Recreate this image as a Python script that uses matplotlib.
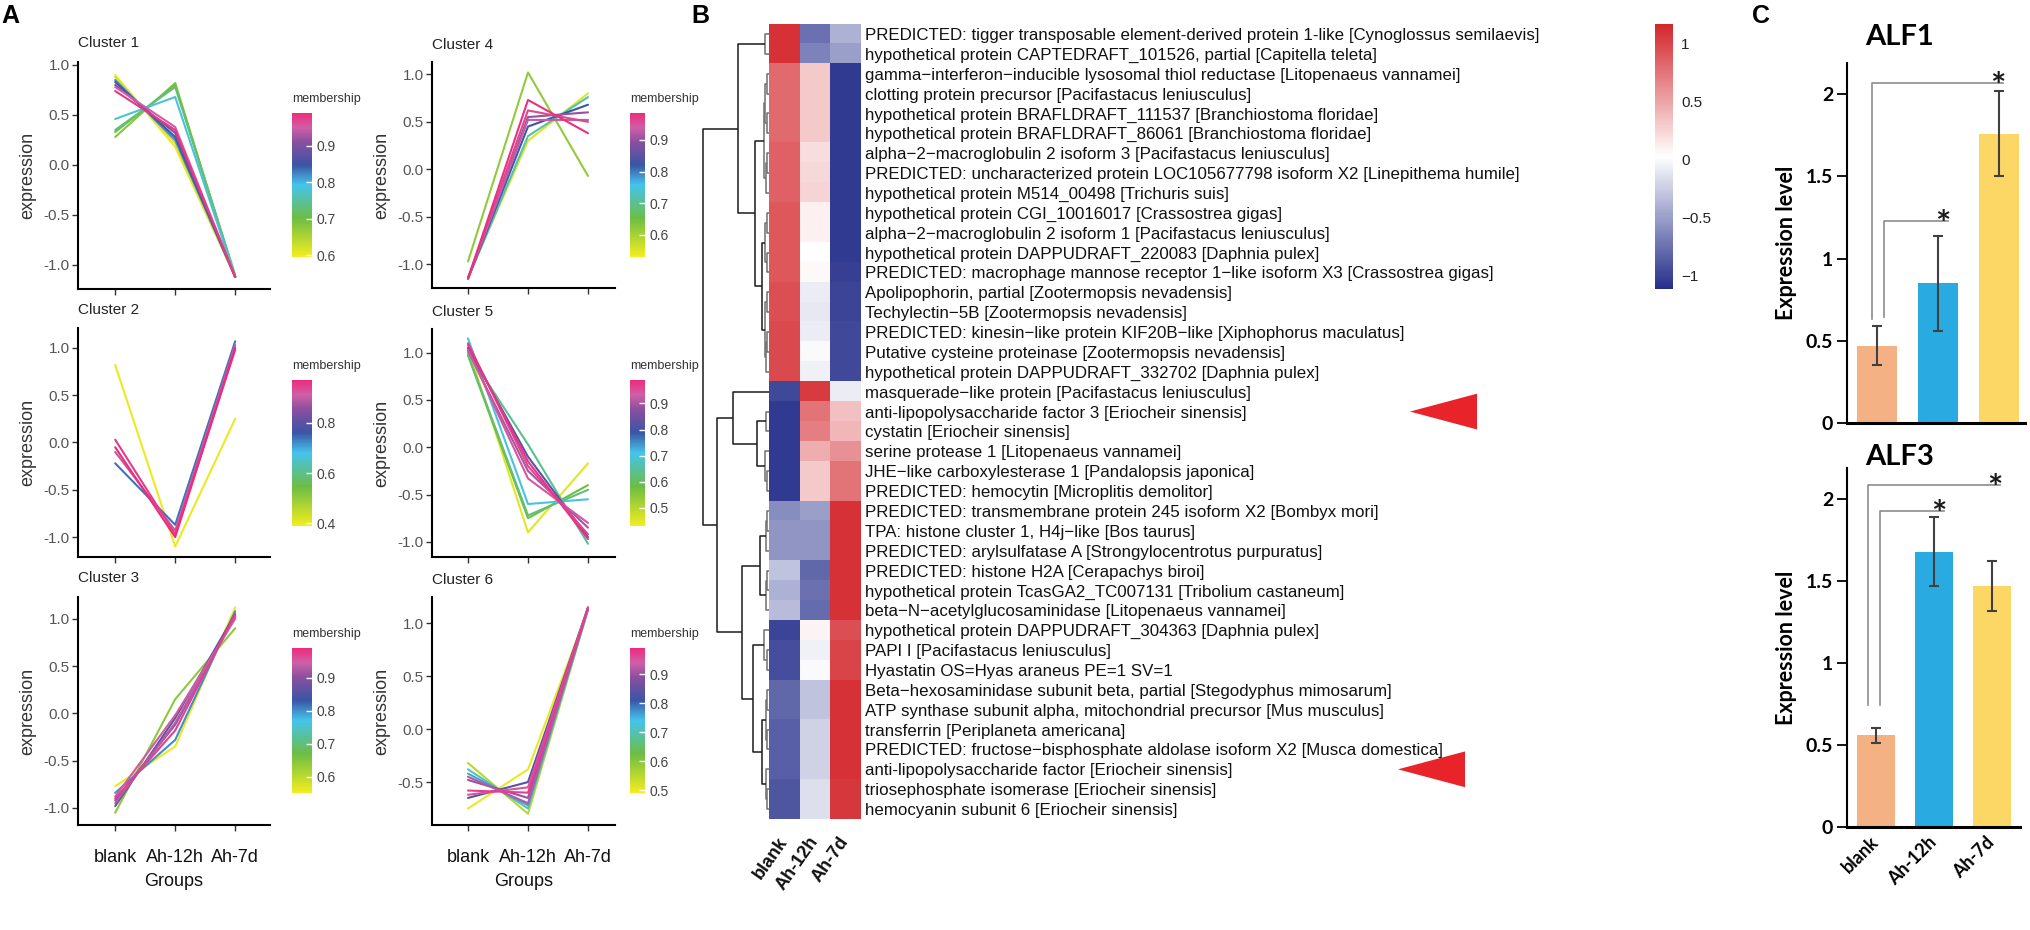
import numpy as np
import matplotlib
matplotlib.use('Agg')
import matplotlib.pyplot as plt
import matplotlib.transforms as mtransforms
from matplotlib.colors import LinearSegmentedColormap, Normalize
from matplotlib.colorbar import ColorbarBase
from matplotlib.patches import Polygon

plt.rcParams['axes.unicode_minus'] = False
plt.rcParams['font.family'] = ['Liberation Sans', 'DejaVu Sans']

W, H = 2031, 930

# ---------------- data ----------------
groups = ['blank', 'Ah-12h', 'Ah-7d']

# panel A: one row per gene -> blank, Ah-12h, Ah-7d, membership
cluster1 = [(0.90, 0.18, -1.12, 0.60), (0.88, 0.22, -1.12, 0.62), (0.28, 0.82, -1.12, 0.68),
            (0.33, 0.80, -1.12, 0.70), (0.35, 0.78, -1.10, 0.73), (0.46, 0.68, -1.12, 0.78),
            (0.85, 0.25, -1.12, 0.82), (0.83, 0.28, -1.12, 0.86), (0.80, 0.32, -1.12, 0.90),
            (0.78, 0.38, -1.12, 0.95), (0.74, 0.35, -1.12, 0.98)]
cluster2 = [(0.82, -1.10, 0.25, 0.40), (-0.22, -0.87, 1.07, 0.74), (-0.10, -0.93, 1.03, 0.90),
            (0.03, -0.97, 0.98, 0.95), (-0.05, -1.00, 1.00, 0.97)]
cluster3 = [(-0.77, -0.35, 1.12, 0.56), (-1.05, 0.15, 0.90, 0.64), (-0.84, -0.28, 1.08, 0.80),
            (-0.98, -0.05, 1.05, 0.86), (-0.92, -0.12, 1.03, 0.90), (-0.95, -0.10, 1.02, 0.93),
            (-0.88, -0.02, 1.00, 0.95), (-0.90, -0.18, 1.05, 0.97)]
cluster4 = [(-1.13, 0.30, 0.80, 0.55), (-0.97, 1.02, -0.07, 0.62), (-1.15, 0.35, 0.76, 0.72),
            (-1.15, 0.45, 0.68, 0.82), (-1.15, 0.55, 0.60, 0.90), (-1.15, 0.52, 0.52, 0.93),
            (-1.15, 0.62, 0.50, 0.96), (-1.15, 0.73, 0.38, 0.98)]
cluster5 = [(1.05, -0.90, -0.17, 0.45), (0.97, -0.75, -0.40, 0.58), (0.98, -0.72, -0.45, 0.62),
            (1.00, 0.03, -1.02, 0.64), (1.15, -0.60, -0.55, 0.70), (1.05, -0.10, -0.95, 0.82),
            (1.02, -0.25, -0.85, 0.90), (1.03, -0.33, -0.80, 0.94), (1.10, -0.20, -0.92, 0.96),
            (1.08, -0.15, -0.97, 0.98)]
cluster6 = [(-0.75, -0.38, 1.13, 0.50), (-0.32, -0.80, 1.13, 0.55), (-0.38, -0.75, 1.13, 0.70),
            (-0.42, -0.72, 1.14, 0.76), (-0.65, -0.50, 1.15, 0.84), (-0.48, -0.65, 1.15, 0.90),
            (-0.45, -0.70, 1.14, 0.92), (-0.62, -0.55, 1.15, 0.95), (-0.58, -0.60, 1.15, 0.97)]
clusters = [cluster1, cluster2, cluster3, cluster4, cluster5, cluster6]

# panel B: heatmap rows (blank, Ah-12h, Ah-7d)
gene_labels = [
    'PREDICTED: tigger transposable element-derived protein 1-like [Cynoglossus semilaevis]',
    'hypothetical protein CAPTEDRAFT_101526, partial [Capitella teleta]',
    'gamma\u2212interferon\u2212inducible lysosomal thiol reductase [Litopenaeus vannamei]',
    'clotting protein precursor [Pacifastacus leniusculus]',
    'hypothetical protein BRAFLDRAFT_111537 [Branchiostoma floridae]',
    'hypothetical protein BRAFLDRAFT_86061 [Branchiostoma floridae]',
    'alpha\u22122\u2212macroglobulin 2 isoform 3 [Pacifastacus leniusculus]',
    'PREDICTED: uncharacterized protein LOC105677798 isoform X2 [Linepithema humile]',
    'hypothetical protein M514_00498 [Trichuris suis]',
    'hypothetical protein CGI_10016017 [Crassostrea gigas]',
    'alpha\u22122\u2212macroglobulin 2 isoform 1 [Pacifastacus leniusculus]',
    'hypothetical protein DAPPUDRAFT_220083 [Daphnia pulex]',
    'PREDICTED: macrophage mannose receptor 1\u2212like isoform X3 [Crassostrea gigas]',
    'Apolipophorin, partial [Zootermopsis nevadensis]',
    'Techylectin\u22125B [Zootermopsis nevadensis]',
    'PREDICTED: kinesin\u2212like protein KIF20B\u2212like [Xiphophorus maculatus]',
    'Putative cysteine proteinase [Zootermopsis nevadensis]',
    'hypothetical protein DAPPUDRAFT_332702 [Daphnia pulex]',
    'masquerade\u2212like protein [Pacifastacus leniusculus]',
    'anti-lipopolysaccharide factor 3 [Eriocheir sinensis]',
    'cystatin [Eriocheir sinensis]',
    'serine protease 1 [Litopenaeus vannamei]',
    'JHE\u2212like carboxylesterase 1 [Pandalopsis japonica]',
    'PREDICTED: hemocytin [Microplitis demolitor]',
    'PREDICTED: transmembrane protein 245 isoform X2 [Bombyx mori]',
    'TPA: histone cluster 1, H4j\u2212like [Bos taurus]',
    'PREDICTED: arylsulfatase A [Strongylocentrotus purpuratus]',
    'PREDICTED: histone H2A [Cerapachys biroi]',
    'hypothetical protein TcasGA2_TC007131 [Tribolium castaneum]',
    'beta\u2212N\u2212acetylglucosaminidase [Litopenaeus vannamei]',
    'hypothetical protein DAPPUDRAFT_304363 [Daphnia pulex]',
    'PAPI I [Pacifastacus leniusculus]',
    'Hyastatin OS=Hyas araneus PE=1 SV=1',
    'Beta\u2212hexosaminidase subunit beta, partial [Stegodyphus mimosarum]',
    'ATP synthase subunit alpha, mitochondrial precursor [Mus musculus]',
    'transferrin [Periplaneta americana]',
    'PREDICTED: fructose\u2212bisphosphate aldolase isoform X2 [Musca domestica]',
    'anti-lipopolysaccharide factor [Eriocheir sinensis]',
    'triosephosphate isomerase [Eriocheir sinensis]',
    'hemocyanin subunit 6 [Eriocheir sinensis]',
]
heat_blank = [1.10, 1.10, 0.80, 0.80, 0.80, 0.80, 0.85, 0.85, 0.85, 0.90, 0.90, 0.90, 0.90, 0.95,
              0.95, 0.97, 0.97, 0.97, -0.97, -1.05, -1.05, -1.05, -1.05, -1.05, -0.60, -0.55,
              -0.55, -0.30, -0.40, -0.35, -1.00, -0.95, -0.95, -0.80, -0.80, -0.85, -0.85, -0.85,
              -0.90, -0.90]
heat_12h = [-0.75, -0.65, 0.30, 0.30, 0.30, 0.30, 0.20, 0.22, 0.25, 0.10, 0.10, 0.03, 0.05, -0.08,
            -0.10, -0.08, 0.00, -0.05, 1.05, 0.75, 0.70, 0.45, 0.30, 0.30, -0.50, -0.55, -0.55,
            -0.80, -0.75, -0.78, 0.08, -0.05, 0.00, -0.30, -0.30, -0.22, -0.22, -0.22, -0.15,
            -0.15]
heat_7d = [-0.40, -0.50, -1.05, -1.05, -1.05, -1.05, -1.05, -1.05, -1.05, -1.05, -1.05, -1.05,
           -1.03, -1.00, -1.00, -0.97, -0.97, -0.97, -0.08, 0.35, 0.40, 0.60, 0.75, 0.75, 1.10,
           1.10, 1.10, 1.10, 1.10, 1.10, 0.95, 1.00, 1.00, 1.10, 1.10, 1.10, 1.10, 1.10, 1.07,
           1.07]
arrow_rows = [19, 37]

# row dendrogram: (left, right, merge height), leaves are row indices
top_a = (((2, 3, 2), (4, 5, 2), 4), ((6, 7, 2), 8, 3), 5)
top_b = (((9, 10, 2), (11, 12, 2), 4), ((13, 14, 2), ((15, 16, 1.5), 17, 2.5), 4), 7)
top_tree = ((0, 1, 4), (top_a, top_b, 14), 31)
bot_a = (18, ((19, 20, 3), (21, (22, 23, 2), 4), 12), 36)
bot_b1 = (((24, 25, 2), 26, 3), ((27, 28, 2), 29, 3), 9)
bot_b2 = ((30, (31, 32, 2), 5), (((33, 34, 2), (35, 36, 2), 3), (37, (38, 39, 1.5), 2.5), 7), 16)
row_tree = (top_tree, (bot_a, (bot_b1, bot_b2, 27), 52), 66)

# panel C: qPCR means and SD
alf1_mean = [0.47, 0.85, 1.76]
alf1_sd = [0.12, 0.29, 0.26]
alf3_mean = [0.56, 1.68, 1.47]
alf3_sd = [0.045, 0.21, 0.15]
alf1_pairs = [(0, 2, 2.07, 0.63), (0, 1, 1.23, 0.645)]   # from, to, bracket level, drop to
alf3_pairs = [(0, 2, 2.085, 0.745), (0, 1, 1.925, 0.745)]

# ---------------- figure ----------------
fig = plt.figure(figsize=(W / 100, H / 100), dpi=100)


def px_box(l, t, r, b):
    return [l / W, 1 - b / H, (r - l) / W, (b - t) / H]


def fx(x):
    return x / W


def fy(y):
    return 1 - y / H


member_cmap = LinearSegmentedColormap.from_list('member', [
    (0.0, '#f3ed1f'), (0.27, '#6cbd45'), (0.5, '#45c4ec'), (0.64, '#3b55a6'),
    (0.8, '#8a4f9f'), (0.9, '#cf5fa6'), (1.0, '#ee2b7c')])

# axes box, title y, colorbar box, ylim, colorbar range, colorbar ticks
a_layout = [
    ((78, 62, 270, 289), 43, (292, 113, 312, 257), (-1.24, 1.03), (0.595, 0.99), [0.6, 0.7, 0.8, 0.9]),
    ((78, 328, 270, 557), 310, (292, 380, 312, 526), (-1.21, 1.21), (0.39, 0.97), [0.4, 0.6, 0.8]),
    ((78, 597, 270, 825), 578, (292, 648, 312, 793), (-1.18, 1.23), (0.55, 0.99), [0.6, 0.7, 0.8, 0.9]),
    ((432, 62, 615, 288), 45, (630, 113, 645, 257), (-1.25, 1.13), (0.53, 0.985), [0.6, 0.7, 0.8, 0.9]),
    ((432, 329, 615, 557), 312, (630, 380, 645, 526), (-1.16, 1.25), (0.43, 0.99), [0.5, 0.6, 0.7, 0.8, 0.9]),
    ((432, 597, 615, 825), 580, (630, 648, 645, 793), (-0.906, 1.25), (0.49, 0.99), [0.5, 0.6, 0.7, 0.8, 0.9]),
]

for k, (rows, lay) in enumerate(zip(clusters, a_layout)):
    box, title_y, cbox, ylim, crange, cticks = lay
    ax = fig.add_axes(px_box(*box))
    norm = Normalize(*crange)
    for r in sorted(rows, key=lambda v: v[3]):
        ax.plot(range(3), r[:3], color=member_cmap(norm(r[3])), lw=1.5, solid_capstyle='round')
    ax.set_ylim(*ylim)
    ax.set_xlim(-0.62, 2.58) if k < 3 else ax.set_xlim(-0.6, 2.45)
    yt = [v for v in [-1.0, -0.5, 0.0, 0.5, 1.0] if ylim[0] <= v <= ylim[1]]
    ax.set_yticks(yt)
    ax.set_yticklabels(['%.1f' % v for v in yt])
    ax.set_xticks(range(3))
    for s in ['top', 'right']:
        ax.spines[s].set_visible(False)
    for s in ['left', 'bottom']:
        ax.spines[s].set_linewidth(1.5)
    ax.tick_params(axis='y', labelsize=11, labelcolor='#555555', length=4, width=1, color='#333333', pad=2)
    ax.tick_params(axis='x', length=4, width=1, color='#333333')
    if k in (2, 5):
        ax.set_xticklabels(groups, fontsize=13, color='#111111')
        ax.tick_params(axis='x', pad=13)
        ax.set_xlabel('Groups', fontsize=13, color='#111111', labelpad=5)
    else:
        ax.set_xticklabels([])
    ax.set_ylabel('expression', fontsize=13, color='#333333', labelpad=5)
    fig.text(fx(box[0]), fy(title_y), 'Cluster %d' % (k + 1), fontsize=11, color='#222222',
             ha='left', va='center')
    # membership colour bar
    cax = fig.add_axes(px_box(*cbox))
    cb = ColorbarBase(cax, cmap=member_cmap, norm=norm, ticks=cticks)
    cb.outline.set_visible(False)
    cb.ax.set_yticklabels(['%.1f' % v for v in cticks])
    cax.tick_params(direction='in', length=4, width=1, color='white', labelsize=10,
                    labelcolor='#444444', pad=3)
    fig.text(fx(cbox[0]), fy(cbox[1] - 14), 'membership', fontsize=9, color='#333333',
             ha='left', va='center')

# ---------------- panel B ----------------
heat = np.array([heat_blank, heat_12h, heat_7d]).T
heat_cmap = LinearSegmentedColormap.from_list('navwr', ['#252f8b', '#ffffff', '#d3262c'])
heat_norm = Normalize(-1.12, 1.165)
n_rows = len(gene_labels)

hax = fig.add_axes(px_box(769, 24, 861, 819))
hax.imshow(heat, cmap=heat_cmap, norm=heat_norm, aspect='auto', interpolation='nearest')
for s in hax.spines.values():
    s.set_visible(False)
hax.yaxis.tick_right()
hax.set_yticks(range(n_rows))
hax.set_yticklabels(gene_labels, fontsize=12.2, color='#111111')
hax.set_xticks(range(3))
hax.set_xticklabels(groups, rotation=55, ha='right', va='center', rotation_mode='anchor',
                    fontsize=13, fontweight='bold', color='#111111')
hax.tick_params(axis='y', length=0, pad=3)
hax.tick_params(axis='x', length=0, pad=14)

# red arrows next to the ALF rows
trans = mtransforms.blended_transform_factory(fig.transFigure, hax.transData)
for r, tip in zip(arrow_rows, [1410, 1398]):
    tri = Polygon([(fx(tip), r), (fx(tip + 67), r - 0.9), (fx(tip + 67), r + 0.9)],
                  closed=True, transform=trans, facecolor='#e8242a', edgecolor='none',
                  clip_on=False)
    fig.add_artist(tri)

# dendrogram
dax = fig.add_axes(px_box(699, 24, 769, 819))


def draw_tree(ax, node):
    if isinstance(node, int):
        return float(node), 0.0
    left, right, h = node
    y1, h1 = draw_tree(ax, left)
    y2, h2 = draw_tree(ax, right)
    col = '#6f6f6f' if h < 6 else '#1a1a1a'
    ax.plot([h1, h, h, h2], [y1, y1, y2, y2], color=col, lw=1.1, solid_capstyle='butt')
    return (y1 + y2) / 2, h


draw_tree(dax, row_tree)
dax.set_xlim(70, 0)
dax.set_ylim(n_rows - 0.5, -0.5)
dax.axis('off')

# heatmap colour key
kax = fig.add_axes(px_box(1655, 24, 1673, 289))
kb = ColorbarBase(kax, cmap=heat_cmap, norm=heat_norm, ticks=[-1, -0.5, 0, 0.5, 1])
kb.outline.set_visible(False)
kb.ax.set_yticklabels(['\u22121', '\u22120.5', '0', '0.5', '1'])
kax.tick_params(length=0, labelsize=11, labelcolor='#222222', pad=6)

# ---------------- panel C ----------------
bar_colors = ['#f4b183', '#29abe2', '#fdd766']
cfont = ['Lato', 'DejaVu Sans']


def qpcr(box, means, sds, pairs, title, title_y, xlim, offsets, show_x):
    ax = fig.add_axes(px_box(*box))
    x = np.arange(len(means))
    ax.bar(x, means, width=0.66, color=bar_colors)
    ax.errorbar(x, means, yerr=sds, fmt='none', ecolor='#404040', elinewidth=1.5,
                capsize=3.5, capthick=1.5)
    for (i, j, lev, low), (lo, ro) in zip(pairs, offsets):
        ax.plot([i + lo, i + lo, j + ro], [low, lev, lev], color='#8c8c8c', lw=1.2)
        ax.text(j + ro - 0.08, lev - 0.09, '*', ha='center', va='baseline', fontsize=26,
                fontweight='bold', family=cfont, color='#1a1a1a')
    ax.set_xlim(*xlim)
    ax.set_ylim(0, 2.19)
    ax.set_yticks([0, 0.5, 1, 1.5, 2])
    ax.set_yticklabels(['0', '0.5', '1', '1.5', '2'], family=cfont, fontweight='bold', fontsize=14)
    for s in ['top', 'right']:
        ax.spines[s].set_visible(False)
    ax.spines['left'].set_linewidth(1.5)
    ax.spines['bottom'].set_linewidth(2.2)
    ax.tick_params(axis='y', length=7, width=1.3, pad=3)
    ax.set_xticks(x)
    if show_x:
        ax.set_xticklabels(groups, rotation=45, ha='right', va='center', rotation_mode='anchor',
                           family=cfont, fontweight='bold', fontsize=13)
        ax.tick_params(axis='x', length=0, pad=9)
    else:
        ax.set_xticklabels([])
        ax.tick_params(axis='x', length=0)
    ax.set_ylabel('Expression level', family=cfont, fontweight='bold', fontsize=15.5, labelpad=6)
    fig.text(fx(1900), fy(title_y), title, family=cfont, fontweight='bold', fontsize=21,
             ha='center', va='center')


qpcr((1847, 63, 2025, 423), alf1_mean, alf1_sd, alf1_pairs, 'ALF1', 37, (-0.49, 2.43),
     [(-0.08, 0.07), (0.11, 0.16)], False)
qpcr((1847, 468, 2020, 827), alf3_mean, alf3_sd, alf3_pairs, 'ALF3', 457, (-0.5, 2.49),
     [(-0.14, 0.14), (0.07, 0.17)], True)

# panel letters
for letter, x, y in [('A', 10, 16), ('B', 700, 16), ('C', 1761, 16)]:
    fig.text(fx(x), fy(y), letter, fontsize=18, fontweight='bold', ha='center', va='center')

fig.savefig('out.png', dpi=100)
